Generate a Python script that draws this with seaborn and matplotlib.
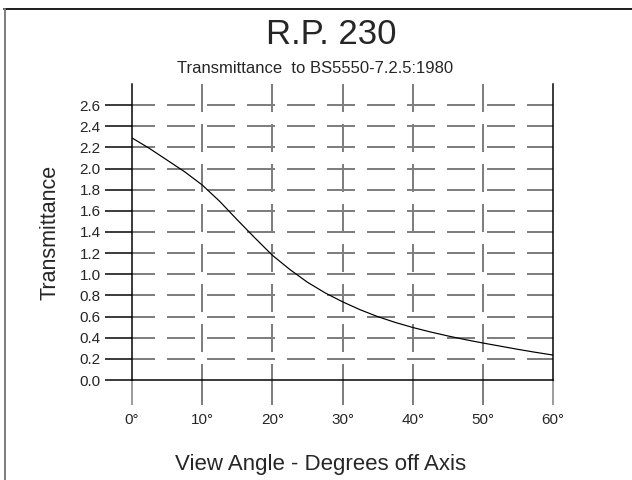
import numpy as np
import pandas as pd
import matplotlib
matplotlib.use("Agg")
import matplotlib.pyplot as plt
from matplotlib.lines import Line2D
import seaborn as sns

# ── data ─────────────────────────────────────────────────────────────────────
angle_deg = [0, 2.5, 5, 7.5, 10, 12.5, 15, 17.5, 20, 22.5, 25, 27.5, 30,
             32.5, 35, 37.5, 40, 42.5, 45, 47.5, 50, 52.5, 55, 57.5, 60]
transmittance = [2.29, 2.19, 2.08, 1.97, 1.845, 1.69, 1.515, 1.345, 1.18,
                 1.045, 0.925, 0.825, 0.74, 0.665, 0.60, 0.545, 0.497,
                 0.455, 0.417, 0.382, 0.35, 0.32, 0.29, 0.262, 0.236]
x_ticks = [0, 10, 20, 30, 40, 50, 60]
x_ticklabels = ["0°", "10°", "20°", "30°", "40°", "50°", "60°"]
y_ticks = [0.0, 0.2, 0.4, 0.6, 0.8, 1.0, 1.2, 1.4, 1.6, 1.8, 2.0, 2.2, 2.4, 2.6]

df = pd.DataFrame({"angle": angle_deg, "T": transmittance})

sns.set_style("white")
plt.rcParams["font.family"] = ["Liberation Sans", "DejaVu Sans"]

DPI = 100
fig = plt.figure(figsize=(6.32, 4.80), dpi=DPI)
ax = fig.add_axes([132 / 632, 100 / 480, 421 / 632, 296 / 480])
ax.set_xlim(0, 60)
ax.set_ylim(0, 2.8)

px = 72 / DPI  # points per pixel
grey = "#7f7f7f"

# dashed grid, drawn by hand so the dash pattern matches
for y in y_ticks[1:]:
    ax.plot([0, 60], [y, y], color=grey, lw=2 * px,
            linestyle=(2.5, (14, 6)), zorder=1)
for x in x_ticks[1:-1]:
    ax.plot([x, x], [2.8, 0], color=grey, lw=2 * px,
            linestyle=(0, (14, 6)), zorder=1)

sns.lineplot(data=df, x="angle", y="T", ax=ax, color="black",
             lw=1.2 * px, zorder=3)

for side in ["left", "right", "bottom"]:
    ax.spines[side].set_color("black")
    ax.spines[side].set_linewidth(1.5 * px)
ax.spines["top"].set_visible(False)

ax.set_xticks(x_ticks)
ax.set_xticklabels(x_ticklabels)
ax.set_yticks(y_ticks)
ax.set_yticklabels([f"{v:.1f}" for v in y_ticks])
ax.tick_params(axis="y", direction="out", length=27 * px, width=1.5 * px,
               color="black", pad=3, labelsize=11, left=True)
ax.tick_params(axis="x", direction="out", length=25 * px, width=2 * px,
               color=grey, pad=6, labelsize=11, bottom=True)
for t in ax.xaxis.get_major_ticks():
    if t.get_loc() in (0, 60):
        t.tick1line.set_color("black")
        t.tick1line.set_markeredgewidth(1.5 * px)

ax.set_xlabel("")
ax.set_ylabel("")
fig.text(50 / 632, 1 - 232 / 480, "Transmittance", rotation=90,
         ha="center", va="center", fontsize=15.5)
fig.text(321 / 632, 1 - 470 / 480, "View Angle - Degrees off Axis",
         ha="center", va="baseline", fontsize=16)

fig.text(331 / 632, 1 - 44 / 480, "R.P. 230", ha="center", va="baseline",
         fontsize=25)
fig.text(315 / 632, 1 - 73 / 480, "Transmittance  to BS5550-7.2.5:1980",
         ha="center", va="baseline", fontsize=12)

# outer frame (top and left edges only)
fig.add_artist(Line2D([4 / 632, 1], [1 - 8.5 / 480, 1 - 8.5 / 480],
                      transform=fig.transFigure, color="#222222", lw=2 * px))
fig.add_artist(Line2D([5 / 632, 5 / 632], [0, 1 - 8.5 / 480],
                      transform=fig.transFigure, color=grey, lw=2 * px))

fig.savefig("out.png", dpi=DPI)
